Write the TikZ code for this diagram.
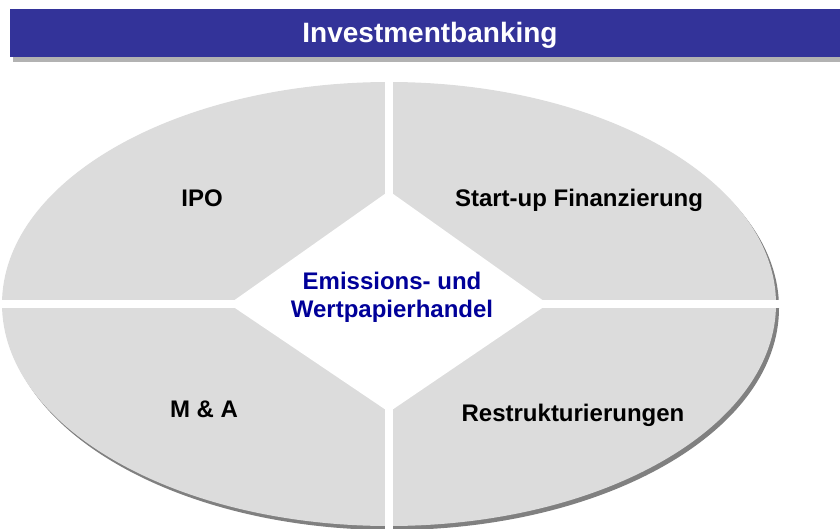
\documentclass[tikz,border=0pt]{standalone}
\usepackage{fontspec}
\setmainfont{Liberation Sans}
\usepackage{xcolor}
\usetikzlibrary{positioning}
\definecolor{barblue}{RGB}{51,51,153}
\definecolor{quadgray}{RGB}{220,220,220}
\definecolor{shadegray}{RGB}{128,128,128}
\definecolor{coreblue}{RGB}{0,0,153}

\begin{document}
\begin{tikzpicture}[
  x=1pt,y=-1pt,
  every node/.style={font=\bfseries\fontsize{24}{28}\selectfont,align=center,inner sep=0pt},
  quad/.style={text=black,anchor=base},
  core/.style={text=coreblue},
  gap/.style={fill=white}
]
\useasboundingbox (0,0) rectangle (840,529);
% title bar with shadow
\fill[black!30] (13,13) rectangle (840,62);
\fill[barblue] (10,9) rectangle (840,57);
\node[text=white,anchor=base,font=\bfseries\fontsize{28}{32}\selectfont] (title) at (430,43) {Investmentbanking};
% ellipse with shadow
\fill[shadegray] (392,308) ellipse [x radius=387,y radius=222];
\fill[quadgray] (389,304) ellipse [x radius=387,y radius=222];
% gaps between the quadrants
\fill[gap] (385,75) rectangle (393,529);
\fill[gap] (0,300) rectangle (790,308);
\fill[gap] (229,304) -- (389,191) -- (548,304) -- (389,412) -- cycle;
% labels
\node[quad] (ipo) at (202,207) {IPO};
\node[quad] (startup) at (579,207) {Start-up Finanzierung};
\node[quad] (ma) at (204,417) {M \& A};
\node[quad] (restr) at (573,421) {Restrukturierungen};
\node[core] (center) at (392,297.5) {Emissions- und\\Wertpapierhandel};
\end{tikzpicture}
\end{document}
